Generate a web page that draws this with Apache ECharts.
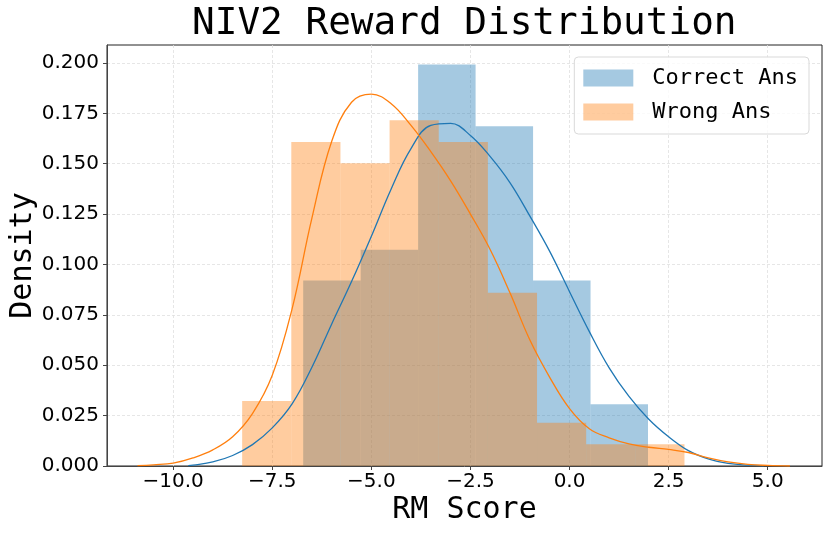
<!DOCTYPE html>
<html>
<head>
<meta charset="utf-8">
<script src="https://cdn.jsdelivr.net/npm/echarts@6/dist/echarts.min.js"></script>
<style>
html,body{margin:0;padding:0;background:#fff;}
#c{width:830px;height:534px;}
</style>
</head>
<body>
<div id="c"></div>
<script>
// Histogram bins (edges) and densities
const correctEdges = [-6.72, -5.27, -3.82, -2.37, -0.92, 0.53, 1.98];
const correctDensity = [0.0920, 0.1073, 0.1992, 0.1686, 0.0920, 0.0307];
const wrongEdges = [-8.26, -7.02, -5.78, -4.54, -3.30, -2.06, -0.82, 0.42, 1.66, 2.90];
const wrongDensity = [0.0323, 0.1608, 0.1502, 0.1715, 0.1608, 0.0860, 0.0215, 0.0108, 0.0108];

// KDE curves
const correctKdeX = [-9.62, -9.5, -9.0, -8.5, -8.0, -7.5, -7.0, -6.5, -6.0, -5.5, -5.0, -4.5, -4.0, -3.5, -3.0, -2.5, -2.0, -1.5, -1.0, -0.5, 0.0, 0.5, 1.0, 1.5, 2.0, 2.5, 3.0, 3.5, 4.0, 4.5, 4.9];
const correctKdeY = [0.0002, 0.0004, 0.0020, 0.0052, 0.0106, 0.0189, 0.0308, 0.0490, 0.0705, 0.0915, 0.1140, 0.1375, 0.1575, 0.1690, 0.1700, 0.1640, 0.1535, 0.1405, 0.1240, 0.1065, 0.0865, 0.0667, 0.0487, 0.0345, 0.0232, 0.0145, 0.0076, 0.0035, 0.0013, 0.0004, 0.0001];
const wrongKdeX = [-10.9, -10.5, -10.0, -9.5, -9.0, -8.5, -8.0, -7.5, -7.0, -6.5, -6.0, -5.5, -5.0, -4.5, -4.0, -3.5, -3.0, -2.5, -2.0, -1.5, -1.0, -0.5, 0.0, 0.5, 1.0, 1.5, 2.0, 2.5, 3.0, 3.5, 4.0, 4.5, 5.0, 5.56];
const wrongKdeY = [0.0002, 0.0006, 0.0014, 0.0040, 0.0080, 0.0145, 0.0260, 0.0450, 0.0780, 0.1230, 0.1611, 0.1805, 0.1845, 0.1798, 0.1690, 0.1560, 0.1415, 0.1250, 0.1073, 0.0858, 0.0625, 0.0440, 0.0285, 0.0185, 0.0140, 0.0110, 0.0093, 0.0082, 0.0067, 0.0040, 0.0020, 0.0008, 0.0003, 0.0000];

// Tick labels
const xTicks = [-10, -7.5, -5, -2.5, 0, 2.5, 5];
const yTicks = [0, 0.025, 0.05, 0.075, 0.1, 0.125, 0.15, 0.175, 0.2];

const MONO = '"DejaVu Sans Mono", monospace';
const SANS = '"DejaVu Sans", sans-serif';

function histData(edges, dens) {
  return dens.map((d, i) => [edges[i], edges[i + 1], d]);
}
function histRender(color) {
  return function (params, api) {
    const p0 = api.coord([api.value(0), api.value(2)]);
    const p1 = api.coord([api.value(1), 0]);
    return {
      type: 'rect',
      shape: { x: p0[0], y: p0[1], width: p1[0] - p0[0], height: p1[1] - p0[1] },
      style: { fill: color }
    };
  };
}
function zip(xs, ys) { return xs.map((x, i) => [x, ys[i]]); }
function fmtX(v) {
  const s = Math.abs(v).toFixed(1);
  return (v < 0 ? '\u2212' : '') + s;
}

const gridLine = { show: true, lineStyle: { color: '#e0e0e0', type: [3, 2], width: 0.8 } };

const chart = echarts.init(document.getElementById('c'), null, { renderer: 'canvas' });
chart.setOption({
  animation: false,
  backgroundColor: '#ffffff',
  title: {
    text: 'NIV2 Reward Distribution',
    left: 187, top: 0,
    textStyle: { fontFamily: MONO, fontSize: 37.7, fontWeight: 'normal', color: '#000' }
  },
  legend: {
    data: ['Correct Ans', 'Wrong Ans'],
    orient: 'vertical',
    right: 21, top: 57,
    itemWidth: 50, itemHeight: 17, itemGap: 12,
    padding: [10, 11, 11, 9],
    borderColor: '#d9d9d9', borderWidth: 1, borderRadius: 4,
    backgroundColor: 'rgba(255,255,255,0.8)',
    icon: 'rect',
    textStyle: { fontFamily: MONO, fontSize: 22, color: '#000', padding: [0, 0, 0, 14] }
  },
  grid: { left: 107, right: 8, top: 45, bottom: 68, containLabel: false, outerBoundsMode: 'none', show: true, borderColor: '#222', borderWidth: 1, backgroundColor: 'transparent' },
  xAxis: {
    type: 'value', min: -11.67, max: 6.37,
    name: 'RM Score', nameLocation: 'middle', nameGap: 29, nameMoveOverlap: false,
    nameTextStyle: { fontFamily: MONO, fontSize: 30, color: '#000' },
    axisLine: { show: true, onZero: false, lineStyle: { color: '#444', width: 1 } },
    axisTick: { show: true, length: 4, lineStyle: { color: '#444' }, customValues: xTicks },
    axisLabel: { fontFamily: SANS, fontSize: 20, color: '#000', margin: 6, formatter: fmtX, customValues: xTicks },
    splitLine: gridLine
  },
  yAxis: {
    type: 'value', min: 0, max: 0.2089,
    name: 'Density', nameLocation: 'middle', nameGap: 69, nameRotate: 90, nameMoveOverlap: false,
    nameTextStyle: { fontFamily: MONO, fontSize: 30, color: '#000' },
    axisLine: { show: true, onZero: false, lineStyle: { color: '#444', width: 1 } },
    axisTick: { show: true, length: 4, lineStyle: { color: '#444' }, customValues: yTicks },
    axisLabel: { fontFamily: SANS, fontSize: 20, color: '#000', margin: 8, formatter: v => v.toFixed(3), customValues: yTicks },
    splitLine: gridLine
  },
  series: [
    {
      name: 'Correct Ans', type: 'custom', z: 2,
      itemStyle: { color: 'rgba(31,119,180,0.4)' },
      renderItem: histRender('rgba(31,119,180,0.4)'),
      encode: { x: [0, 1], y: 2 },
      data: histData(correctEdges, correctDensity)
    },
    {
      name: 'Wrong Ans', type: 'custom', z: 3,
      itemStyle: { color: 'rgba(255,127,14,0.4)' },
      renderItem: histRender('rgba(255,127,14,0.4)'),
      encode: { x: [0, 1], y: 2 },
      data: histData(wrongEdges, wrongDensity)
    },
    {
      name: 'Correct KDE', type: 'line', z: 4, smooth: 0.4, showSymbol: false,
      lineStyle: { color: '#1f77b4', width: 1.3 }, itemStyle: { color: '#1f77b4' },
      data: zip(correctKdeX, correctKdeY)
    },
    {
      name: 'Wrong KDE', type: 'line', z: 5, smooth: 0.4, showSymbol: false,
      lineStyle: { color: '#ff7f0e', width: 1.3 }, itemStyle: { color: '#ff7f0e' },
      data: zip(wrongKdeX, wrongKdeY)
    }
  ]
});
</script>
</body>
</html>
